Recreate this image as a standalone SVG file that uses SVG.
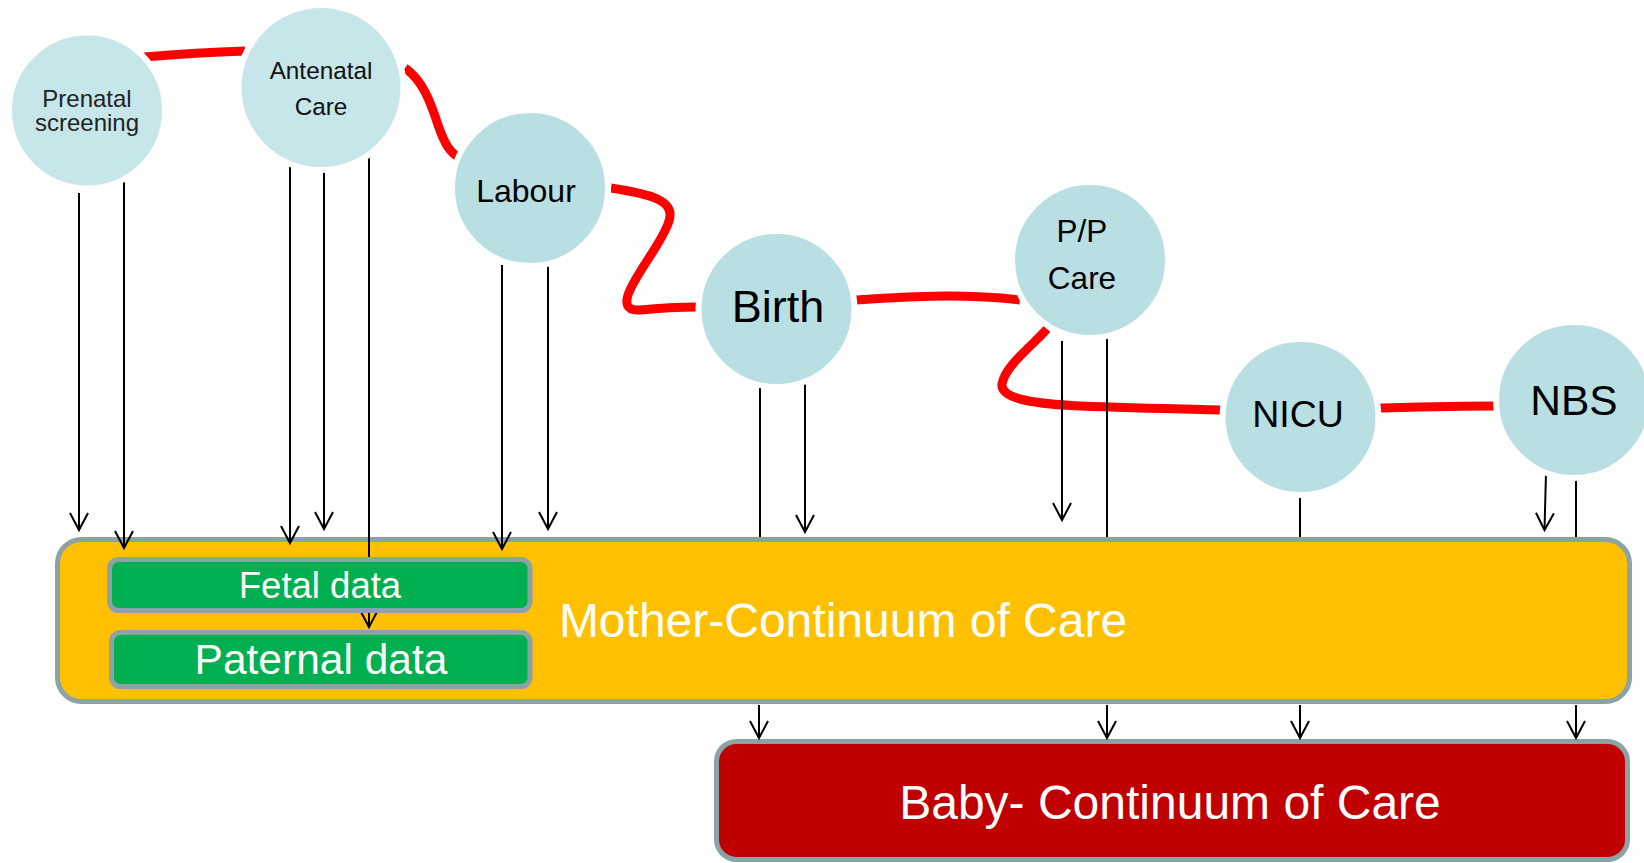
<svg xmlns="http://www.w3.org/2000/svg" width="1644" height="863" viewBox="0 0 1644 863">
<style>
.t{font-family:"Liberation Sans",Arial,sans-serif;text-anchor:middle}
.circ{fill:#B9DFE3;stroke:#ffffff;stroke-width:6}
.circL{fill:#C6E6EA;stroke:#ffffff;stroke-width:6}
.red{fill:none;stroke:#FF0000;stroke-width:9}
.ln{fill:none;stroke:#000;stroke-width:2}
.arr{fill:none;stroke:#000;stroke-width:2;marker-end:url(#ah)}
.box{stroke:#8CA3A5;stroke-width:5}
</style>
<defs>
<marker id="ah" markerUnits="userSpaceOnUse" markerWidth="40" markerHeight="40" refX="0" refY="0" orient="auto" overflow="visible" viewBox="-20 -20 40 40">
<path d="M-17,-9 L0,0 L-17,9" fill="none" stroke="#000" stroke-width="2"/>
</marker>
</defs>
<rect width="1644" height="863" fill="#fff"/>
<g id="mother">
<rect class="box" x="57.5" y="539.5" width="1572" height="162" rx="24" fill="#FFC000"/>
<text class="t" x="843" y="637" font-size="48" fill="#fff">Mother-Continuum of Care</text>
</g>
<g id="baby">
<rect class="box" x="716.5" y="741.5" width="911" height="118" rx="20" fill="#C00000"/>
<text class="t" x="1170" y="819" font-size="48" fill="#fff">Baby- Continuum of Care</text>
</g>
<g id="connectors">
<path class="red" d="M144,57 C180,54 215,52 245,51"/>
<path class="red" d="M405,68 C422,80 430,100 438,125 C445,145 450,152 458,157"/>
<path class="red" d="M611,188 C650,194 678,200 668,224 C660,245 640,268 630,290 C624,303 626,311 640,310 C660,308 680,307 697,307"/>
<path class="red" d="M856,300 C900,297 960,293 1020,300"/>
<path class="red" d="M1047,329 C1030,348 1005,366 1002,384 C1000,400 1040,404 1080,406 C1130,408 1180,409 1222,410"/>
<path class="red" d="M1379,408 C1420,407 1460,406 1494,406"/>
<line class="arr" x1="79" y1="193" x2="79" y2="530"/>
<line class="arr" x1="124" y1="177" x2="124" y2="548"/>
<line class="arr" x1="290" y1="162" x2="290" y2="543"/>
<line class="arr" x1="324" y1="162" x2="324" y2="529"/>
<line class="arr" x1="369" y1="150" x2="369" y2="627"/>
<line class="arr" x1="502" y1="265" x2="502" y2="549"/>
<line class="arr" x1="548" y1="265" x2="548" y2="529"/>
<line class="ln" x1="760" y1="387" x2="760" y2="537"/>
<line class="arr" x1="805" y1="380" x2="805" y2="532"/>
<line class="arr" x1="1062" y1="341" x2="1062" y2="520"/>
<line class="ln" x1="1107" y1="338" x2="1107" y2="537"/>
<line class="ln" x1="1300" y1="497" x2="1300" y2="537"/>
<line class="arr" x1="1546" y1="473" x2="1544.5" y2="530"/>
<line class="ln" x1="1576" y1="480" x2="1576" y2="537"/>
<line class="arr" x1="759" y1="705" x2="759" y2="738"/>
<line class="arr" x1="1107" y1="705" x2="1107" y2="738"/>
<line class="arr" x1="1300" y1="705" x2="1300" y2="738"/>
<line class="arr" x1="1576" y1="705" x2="1576" y2="738"/>
</g>
<g id="fetal">
<rect class="box" x="109.5" y="559.5" width="420.5" height="51" rx="9" fill="#00B050"/>
<text class="t" x="320" y="598" font-size="36.5" fill="#fff">Fetal data</text>
</g>
<g id="paternal">
<rect class="box" x="111.5" y="632.5" width="418.5" height="54" rx="9" fill="#00B050"/>
<text class="t" x="321" y="674" font-size="42.5" fill="#fff">Paternal data</text>
</g>
<g id="prenatal">
<circle class="circL" cx="87" cy="110.5" r="78"/>
<text class="t" x="87" y="107" font-size="24" fill="#222">Prenatal</text>
<text class="t" x="87" y="131" font-size="24" fill="#222">screening</text>
</g>
<g id="antenatal">
<circle class="circL" cx="321" cy="87.5" r="82.5"/>
<text class="t" x="321" y="79" font-size="24.3" fill="#111">Antenatal</text>
<text class="t" x="321" y="115" font-size="24.3" fill="#111">Care</text>
</g>
<g id="labour">
<circle class="circ" cx="530" cy="188" r="78"/>
<text class="t" x="526" y="202" font-size="32" fill="#000">Labour</text>
</g>
<g id="birth">
<circle class="circ" cx="776.5" cy="309" r="78"/>
<text class="t" x="778" y="322" font-size="45" fill="#000">Birth</text>
</g>
<g id="pp">
<circle class="circ" cx="1090" cy="260" r="78"/>
<text class="t" x="1082" y="242" font-size="31.5" fill="#000">P/P</text>
<text class="t" x="1082" y="289" font-size="31.5" fill="#000">Care</text>
</g>
<g id="nicu">
<circle class="circ" cx="1300.5" cy="417" r="78"/>
<text class="t" x="1298" y="427" font-size="37.5" fill="#000">NICU</text>
</g>
<g id="nbs">
<circle class="circ" cx="1574" cy="400" r="78"/>
<text class="t" x="1574" y="415" font-size="42.5" fill="#000">NBS</text>
</g>
</svg>
